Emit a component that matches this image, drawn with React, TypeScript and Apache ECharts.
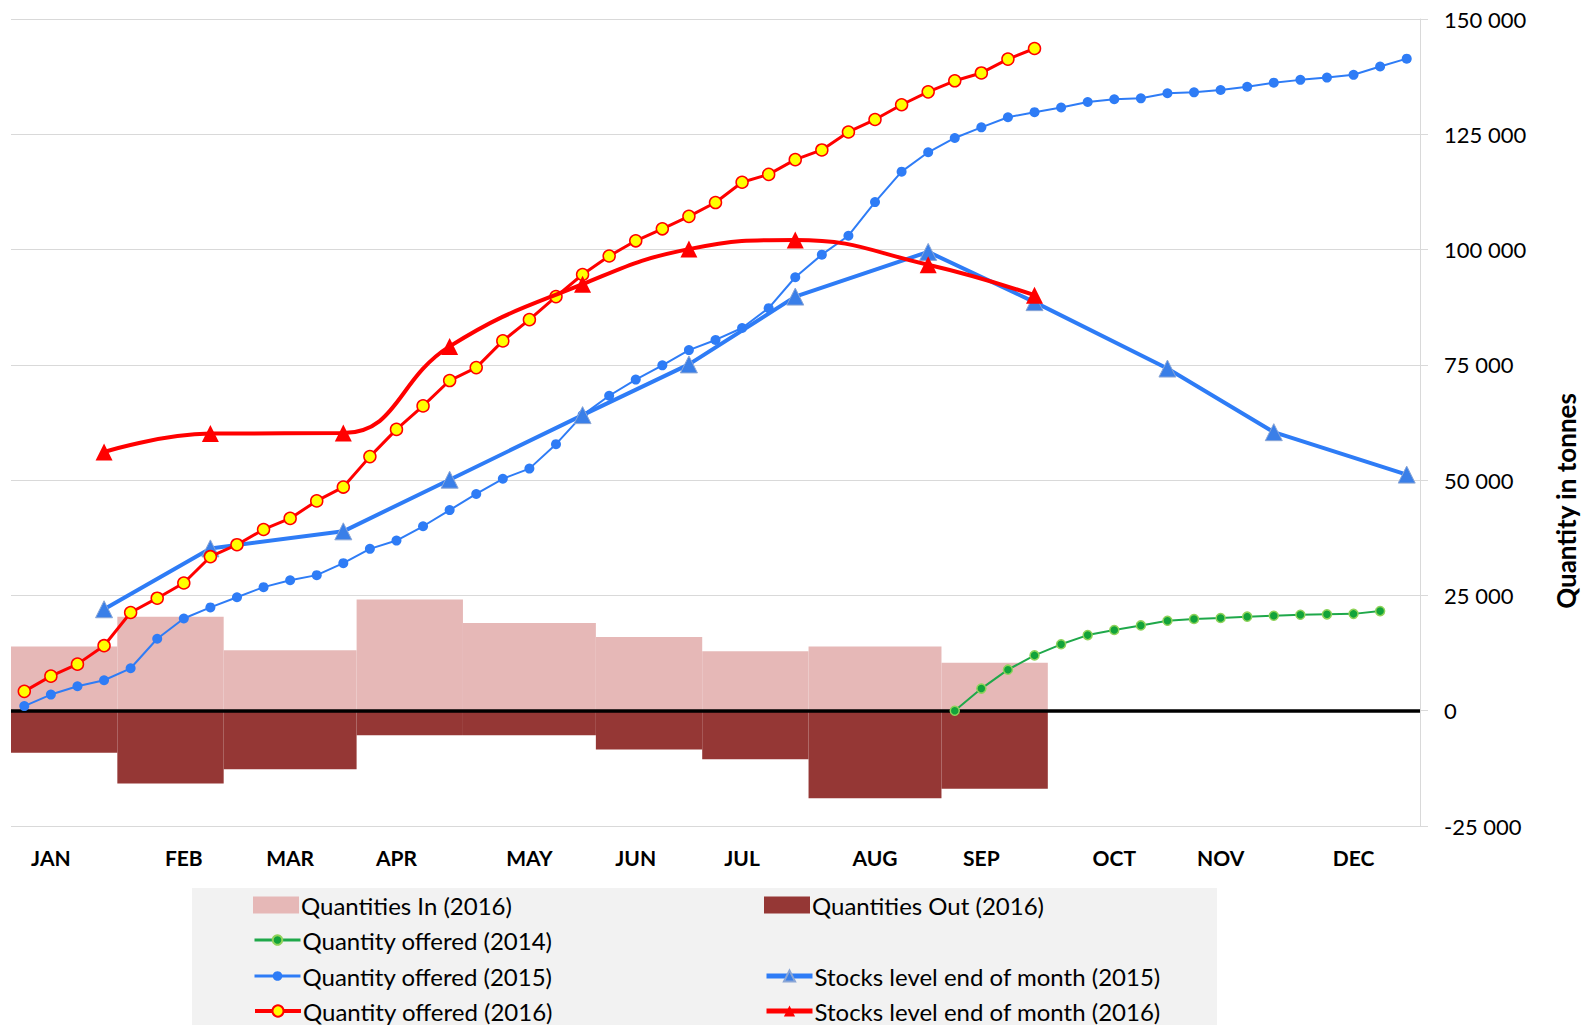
import React, { useEffect, useRef } from 'react';
import * as echarts from 'echarts';

// ---- Data ----
const weeksPerMonth = [4, 4, 5, 4, 5, 4, 4, 5, 4, 5, 4, 5];
const monthNames = ['JAN', 'FEB', 'MAR', 'APR', 'MAY', 'JUN', 'JUL', 'AUG', 'SEP', 'OCT', 'NOV', 'DEC'];
const monthLabelWeek = [1, 6, 10, 14, 19, 23, 27, 32, 36, 41, 45, 50];

// monthly, Jan..Sep
const quantitiesIn2016 = [13900, 20400, 13100, 24100, 19000, 16000, 12900, 13900, 10400];
const quantitiesOut2016 = [-9100, -15800, -12700, -5300, -5300, -8400, -10500, -19000, -16900];

// weekly, starting at week index 35
const offered2014Start = 35;
const offered2014 = [0, 4800, 8900, 12000, 14400, 16400, 17500, 18500, 19500, 19900, 20100, 20400, 20600, 20800, 20900, 21000, 21600];

// weekly, 53 weeks
const offered2015 = [
  1000, 3500, 5300, 6600, 9200, 15600, 20000, 22400, 24600, 26800,
  28300, 29400, 32000, 35100, 36900, 40000, 43500, 47000, 50300, 52500,
  57800, 64100, 68300, 71800, 74900, 78200, 80400, 83000, 87300, 94000,
  98900, 103000, 110300, 116900, 121100, 124200, 126500, 128700, 129800, 130800,
  132000, 132600, 132800, 133900, 134100, 134600, 135300, 136200, 136800, 137300,
  137900, 139700, 141400,
];

// weekly, starting at week 0
const offered2016 = [
  4200, 7500, 10100, 14100, 21300, 24400, 27700, 33400, 36000, 39300,
  41700, 45500, 48500, 55100, 61000, 66100, 71600, 74400, 80200, 84800,
  89800, 94600, 98600, 101900, 104500, 107200, 110200, 114600, 116300, 119500,
  121600, 125500, 128200, 131400, 134200, 136600, 138300, 141300, 143600,
];

// end-of-month stock levels
const stocks2015 = [22000, 35200, 38900, 50100, 64100, 75100, 89800, 99500, 88600, 74200, 60400, 51200];
const stocks2016 = [56100, 60100, 60200, 79000, 92500, 100100, 102100, 96700, 90100];

// ---- Derived ----
const totalWeeks = weeksPerMonth.reduce((a, b) => a + b, 0);
const weeks: string[] = [];
for (let i = 0; i < totalWeeks; i++) weeks.push('W' + (i + 1));
const monthStartWeek: number[] = [];
const monthEndWeek: number[] = [];
{
  let c = 0;
  weeksPerMonth.forEach((n) => { monthStartWeek.push(c); c += n; monthEndWeek.push(c - 1); });
}
// [startWeek, endWeek(exclusive), value] for month blocks
const monthBlocks = (arr: number[]) => arr.map((v, m) => [monthStartWeek[m], monthStartWeek[m] + weeksPerMonth[m], v]);
const stockWeekly = (arr: number[]) => weeks.map((_, i) => {
  const m = monthEndWeek.indexOf(i);
  return m >= 0 && m < arr.length ? arr[m] : null;
});
const padWeekly = (start: number, arr: number[]) => weeks.map((_, i) => (i >= start && i - start < arr.length ? arr[i - start] : null));

const FONT = 'Lato, "Open Sans", sans-serif';
const fmt = (v: number) => String(v).replace(/\B(?=(\d{3})+(?!\d))/g, ' ');

const BLUE = '#2e7cf6';
const RED = '#ff0000';
const PINK = '#e6b8b7';
const MAROON = '#953735';

const blockRenderer = (color: string) => (_params: any, api: any) => {
  const s = api.coord([api.value(0), 0]);
  const e = api.coord([api.value(1), api.value(2)]);
  return {
    type: 'rect',
    shape: { x: s[0], y: Math.min(s[1], e[1]), width: e[0] - s[0], height: Math.abs(e[1] - s[1]) },
    style: { fill: color },
  };
};

export default function App() {
  const ref = useRef<HTMLDivElement>(null);
  useEffect(() => {
    if (!ref.current) return;
    const chart = echarts.init(ref.current, null, { renderer: 'svg' });

    const legendBase = (name: string, left: number, cy: number, ih: number, lw?: number, icon?: string) => ({
      data: [icon ? { name, icon } : name],
      left,
      top: cy - 12,
      padding: 0,
      itemWidth: 46,
      itemHeight: ih,
      selectedMode: false,
      lineStyle: lw ? { width: lw } : undefined,
      textStyle: { fontFamily: FONT, fontSize: 24, color: '#000', lineHeight: 24, padding: [0, 0, 0, -3] },
    });

    const option: any = {
      animation: false,
      backgroundColor: '#fff',
      textStyle: { fontFamily: FONT },
      grid: { left: 11, right: 167, top: 19, bottom: 199, containLabel: false },
      graphic: [
        { type: 'rect', z: -10, shape: { x: 192, y: 888, width: 1025, height: 137 }, style: { fill: '#f2f2f2' } },
        {
          type: 'text', x: 1566, y: 501, rotation: Math.PI / 2,
          style: { text: 'Quantity in tonnes', font: 'bold 26px ' + FONT, fill: '#000', textAlign: 'center', textVerticalAlign: 'middle' },
        },
      ],
      legend: [
        legendBase('Quantities In (2016)', 253, 905, 17, undefined, 'rect'),
        legendBase('Quantities Out (2016)', 764, 905, 17, undefined, 'rect'),
        legendBase('Quantity offered (2014)', 253, 940, 12, 3),
        legendBase('Quantity offered (2015)', 253, 976, 12, 3),
        legendBase('Stocks level end of month (2015)', 764, 976, 14, 5),
        legendBase('Quantity offered (2016)', 253, 1011, 14, 4),
        legendBase('Stocks level end of month (2016)', 764, 1011, 14, 5),
      ],
      xAxis: [
        {
          type: 'category',
          data: weeks,
          boundaryGap: true,
          axisLine: { show: false },
          axisTick: { show: false },
          splitLine: { show: false },
          axisLabel: {
            interval: (idx: number) => monthLabelWeek.indexOf(idx) >= 0,
            formatter: (_v: string, idx: number) => {
              const m = monthLabelWeek.indexOf(idx);
              return m >= 0 ? monthNames[m] : '';
            },
            fontFamily: FONT,
            fontWeight: 'bold',
            fontSize: 21,
            color: '#000',
            margin: 21,
          },
        },
        {
          type: 'value',
          min: 0,
          max: totalWeeks,
          show: false,
        },
      ],
      yAxis: {
        type: 'value',
        position: 'right',
        min: -25000,
        max: 150000,
        interval: 25000,
        axisLine: { show: true, onZero: false, lineStyle: { color: '#d9d9d9', width: 1 } },
        axisTick: { show: true, length: 8, lineStyle: { color: '#d9d9d9' } },
        splitLine: { show: true, lineStyle: { color: '#d9d9d9', width: 1 } },
        axisLabel: { formatter: fmt, fontFamily: FONT, fontSize: 22, color: '#000', margin: 24 },
      },
      series: [
        {
          name: 'Quantities In (2016)',
          type: 'custom',
          xAxisIndex: 1,
          data: monthBlocks(quantitiesIn2016),
          encode: { x: [0, 1], y: 2 },
          renderItem: blockRenderer(PINK),
          itemStyle: { color: PINK },
          z: 1,
          markLine: {
            silent: true,
            symbol: 'none',
            label: { show: false },
            lineStyle: { color: '#000', width: 3.5, type: 'solid' },
            data: [{ yAxis: 0 }],
            z: 2,
          },
        },
        {
          name: 'Quantities Out (2016)',
          type: 'custom',
          xAxisIndex: 1,
          data: monthBlocks(quantitiesOut2016),
          encode: { x: [0, 1], y: 2 },
          renderItem: blockRenderer(MAROON),
          itemStyle: { color: MAROON },
          z: 1,
        },
        {
          name: 'Quantity offered (2014)',
          type: 'line',
          data: padWeekly(offered2014Start, offered2014),
          symbol: 'circle',
          symbolSize: 9,
          lineStyle: { color: '#1fa84a', width: 2 },
          itemStyle: { color: '#12a33a', borderColor: '#8fd35a', borderWidth: 1.5 },
          z: 5,
        },
        {
          name: 'Quantity offered (2015)',
          type: 'line',
          data: offered2015,
          symbol: 'circle',
          symbolSize: 10,
          lineStyle: { color: BLUE, width: 2 },
          itemStyle: { color: BLUE },
          z: 5,
        },
        {
          name: 'Stocks level end of month (2015)',
          type: 'line',
          data: stockWeekly(stocks2015),
          connectNulls: true,
          symbol: 'triangle',
          symbolSize: 17,
          lineStyle: { color: BLUE, width: 4 },
          itemStyle: { color: '#3a7fe8', borderColor: '#8aa6d6', borderWidth: 1 },
          z: 6,
        },
        {
          name: 'Quantity offered (2016)',
          type: 'line',
          data: padWeekly(0, offered2016),
          symbol: 'circle',
          symbolSize: 12,
          lineStyle: { color: RED, width: 3 },
          itemStyle: { color: '#ffff00', borderColor: RED, borderWidth: 1.5 },
          z: 7,
        },
        {
          name: 'Stocks level end of month (2016)',
          type: 'line',
          data: stockWeekly(stocks2016),
          connectNulls: true,
          smooth: 0.45,
          symbol: 'triangle',
          symbolSize: 17,
          lineStyle: { color: RED, width: 4 },
          itemStyle: { color: RED },
          z: 8,
        },
      ],
    };
    chart.setOption(option);
    return () => chart.dispose();
  }, []);
  return <div ref={ref} style={{ position: 'fixed', left: 0, top: 0, width: 1587, height: 1025 }} />;
}
